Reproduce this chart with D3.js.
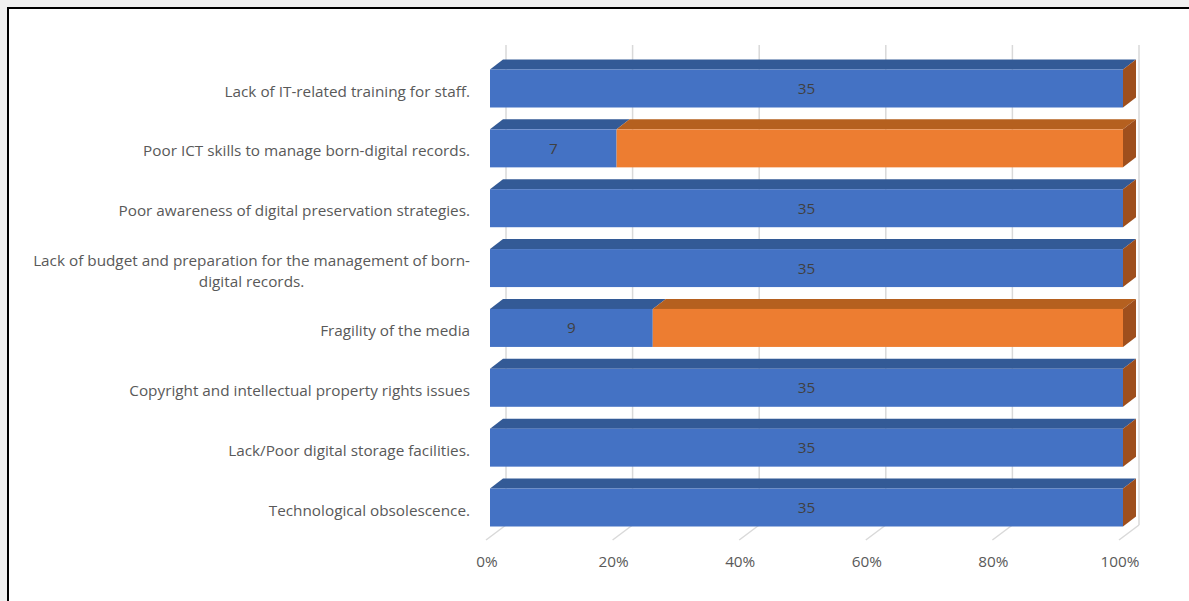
<!DOCTYPE html>
<html><head><meta charset="utf-8">
<script src="https://cdn.jsdelivr.net/npm/d3@7"></script>
<style>
html,body{margin:0;padding:0;background:#f0f0f0;}
svg{display:block;}
</style></head>
<body>
<script>
const categories = [
  "Lack of IT-related training for staff.",
  "Poor ICT skills to manage born-digital records.",
  "Poor awareness of digital preservation strategies.",
  "Lack of budget and preparation for the management of born-|digital records.",
  "Fragility of the media",
  "Copyright and intellectual property rights issues",
  "Lack/Poor digital storage facilities.",
  "Technological obsolescence."
];
const blueValues = [35, 7, 35, 35, 9, 35, 35, 35];
const orangeValues = [0, 28, 0, 0, 26, 0, 0, 0];
const tickValues = [0, 0.2, 0.4, 0.6, 0.8, 1.0];
const tickLabels = ["0%", "20%", "40%", "60%", "80%", "100%"];

const W = 1189, H = 601;
const svg = d3.select("body").append("svg").attr("width", W).attr("height", H);
// panel
svg.append("rect").attr("x", 8).attr("y", 8).attr("width", W + 20).attr("height", H + 20)
  .attr("fill", "#fff").attr("stroke", "#000").attr("stroke-width", 2);

const font = "'Open Sans', Lato, sans-serif";
const fs = 15.3;
const x = d3.scaleLinear().domain([0, 1]).range([490, 1123]);
const y = d3.scalePoint().domain(categories).range([88.5, 507.5]);
const barH = 38, dx = 13, dy = -10;
const backDx = 16, gridTop = 45, gridBottom = 525, floorDx = -4, floorY = 540;

// gridlines (back wall + floor)
const g = svg.append("g");
tickValues.forEach(v => {
  const bx = x(v) + backDx;
  g.append("line").attr("x1", bx).attr("x2", bx).attr("y1", gridTop).attr("y2", gridBottom)
    .attr("stroke", "#d9d9d9").attr("stroke-width", 1.5);
  g.append("line").attr("x1", bx).attr("x2", x(v) + floorDx).attr("y1", gridBottom).attr("y2", floorY)
    .attr("stroke", "#d9d9d9").attr("stroke-width", 1.5);
});
// tick labels
tickValues.forEach((v, i) => {
  svg.append("text").attr("x", x(v) - 3).attr("y", 567).attr("text-anchor", "middle")
    .attr("font-family", font).attr("font-size", fs).attr("fill", "#595959").text(tickLabels[i]);
});

const series = [
  {vals: blueValues, front: "#4472c4", top: "#335a96", side: "#2e5290"},
  {vals: orangeValues, front: "#ed7d31", top: "#b5601f", side: "#9e4f1d"}
];

categories.forEach((c, i) => {
  const total = blueValues[i] + orangeValues[i];
  const yt = y(c) - barH / 2, yb = y(c) + barH / 2;
  let acc = 0;
  const bg = svg.append("g");
  series.forEach((s, si) => {
    const x0 = x(acc / total), x1 = x((acc + s.vals[i]) / total);
    acc += s.vals[i];
    bg.append("path").attr("d", `M${x0},${yt}L${x0+dx},${yt+dy}L${x1+dx},${yt+dy}L${x1},${yt}Z`)
      .attr("fill", s.top);
    bg.append("rect").attr("x", x0).attr("y", yt).attr("width", Math.max(0, x1 - x0)).attr("height", barH)
      .attr("fill", s.front);
    if (si === series.length - 1) {
      bg.append("path").attr("d", `M${x1},${yt}L${x1+dx},${yt+dy}L${x1+dx},${yb+dy}L${x1},${yb}Z`)
        .attr("fill", s.side);
    }
  });
  // value label (blue series)
  const bx0 = x(0), bx1 = x(blueValues[i] / total);
  svg.append("text").attr("x", (bx0 + bx1) / 2).attr("y", y(c) + 5.5).attr("text-anchor", "middle")
    .attr("font-family", font).attr("font-size", fs).attr("fill", "#404040").text(blueValues[i]);
  // category label
  const lines = c.split("|");
  const t = svg.append("text").attr("font-family", font).attr("font-size", fs).attr("fill", "#595959");
  const lh = 21;
  const y0 = y(c) + 8 - (lines.length - 1) * lh / 2;
  if (lines.length === 1) {
    t.attr("x", 470).attr("y", y0).attr("text-anchor", "end").text(lines[0]);
  } else {
    t.attr("text-anchor", "middle");
    const tmp = svg.append("text").attr("font-family", font).attr("font-size", fs).text(lines[0]);
    const w = tmp.node().getComputedTextLength(); tmp.remove();
    const cx = 470 - w / 2;
    lines.forEach((l, k) => t.append("tspan").attr("x", cx).attr("y", y0 + k * lh).text(l));
  }
});
</script>
</body></html>
